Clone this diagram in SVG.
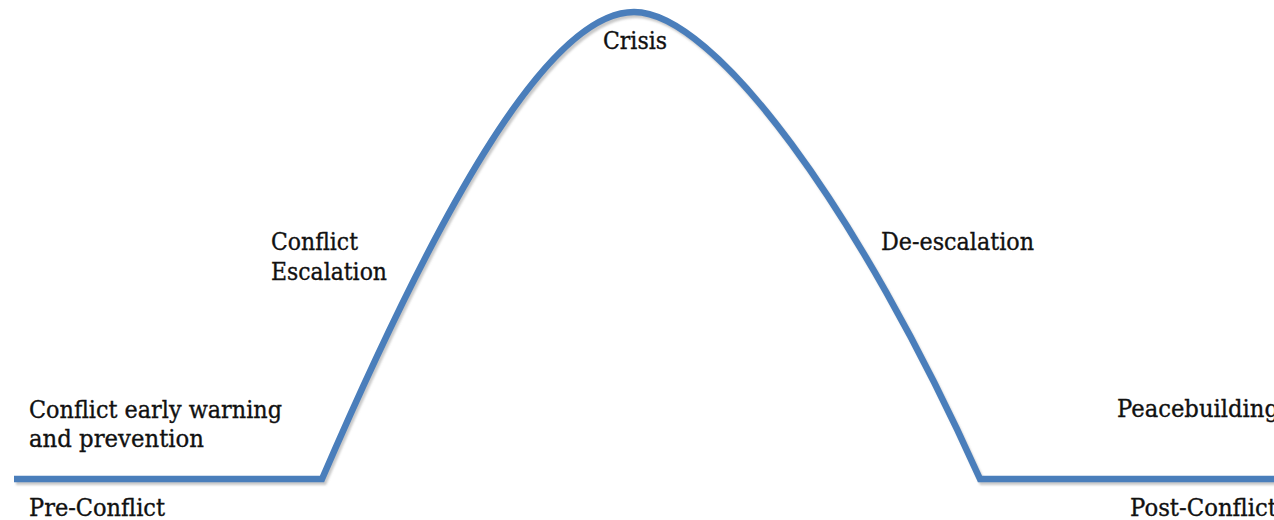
<svg xmlns="http://www.w3.org/2000/svg" width="1274" height="520" viewBox="0 0 1274 520">
  <defs>
    <filter id="soft" x="-5%" y="-5%" width="110%" height="110%">
      <feGaussianBlur stdDeviation="1.2"/>
    </filter>
  </defs>
  <style>
    .lbl { font-family: "DejaVu Serif", "Liberation Serif", serif; font-size: 24px; fill: #111111; stroke: #111111; stroke-width: 0.35px; }
    .curve { fill: none; stroke: #4a7ebb; stroke-width: 6.5; stroke-linejoin: miter; }
    .shadow { fill: none; stroke: #9a9a9a; stroke-opacity: 0.55; stroke-width: 6; filter: url(#soft); }
  </style>
  <rect width="1274" height="520" fill="#ffffff"/>
  <g id="connectors">
    <path class="shadow" transform="translate(2,3)" d="M14,479 H322 C430,229 544,12 634,12 C714,12 859,209 980,479 H1280"/>
    <path class="curve" d="M14,479 H322 C430,229 544,12 634,12 C714,12 859,209 980,479 H1280"/>
  </g>
  <g id="pre-conflict-stage">
    <text class="lbl" x="29" y="418" textLength="253" lengthAdjust="spacingAndGlyphs">Conflict early warning</text>
    <text class="lbl" x="29" y="447" textLength="175" lengthAdjust="spacingAndGlyphs">and prevention</text>
  </g>
  <g id="pre-conflict">
    <text class="lbl" x="29" y="516" textLength="136" lengthAdjust="spacingAndGlyphs">Pre-Conflict</text>
  </g>
  <g id="escalation">
    <text class="lbl" x="271" y="250" textLength="87" lengthAdjust="spacingAndGlyphs">Conflict</text>
    <text class="lbl" x="271" y="280" textLength="116" lengthAdjust="spacingAndGlyphs">Escalation</text>
  </g>
  <g id="crisis">
    <text class="lbl" x="603" y="49" textLength="64" lengthAdjust="spacingAndGlyphs">Crisis</text>
  </g>
  <g id="de-escalation">
    <text class="lbl" x="881" y="250" textLength="153" lengthAdjust="spacingAndGlyphs">De-escalation</text>
  </g>
  <g id="peacebuilding">
    <text class="lbl" x="1117" y="417" textLength="162" lengthAdjust="spacingAndGlyphs">Peacebuilding</text>
  </g>
  <g id="post-conflict">
    <text class="lbl" x="1130" y="516" textLength="147" lengthAdjust="spacingAndGlyphs">Post-Conflict</text>
  </g>
</svg>
